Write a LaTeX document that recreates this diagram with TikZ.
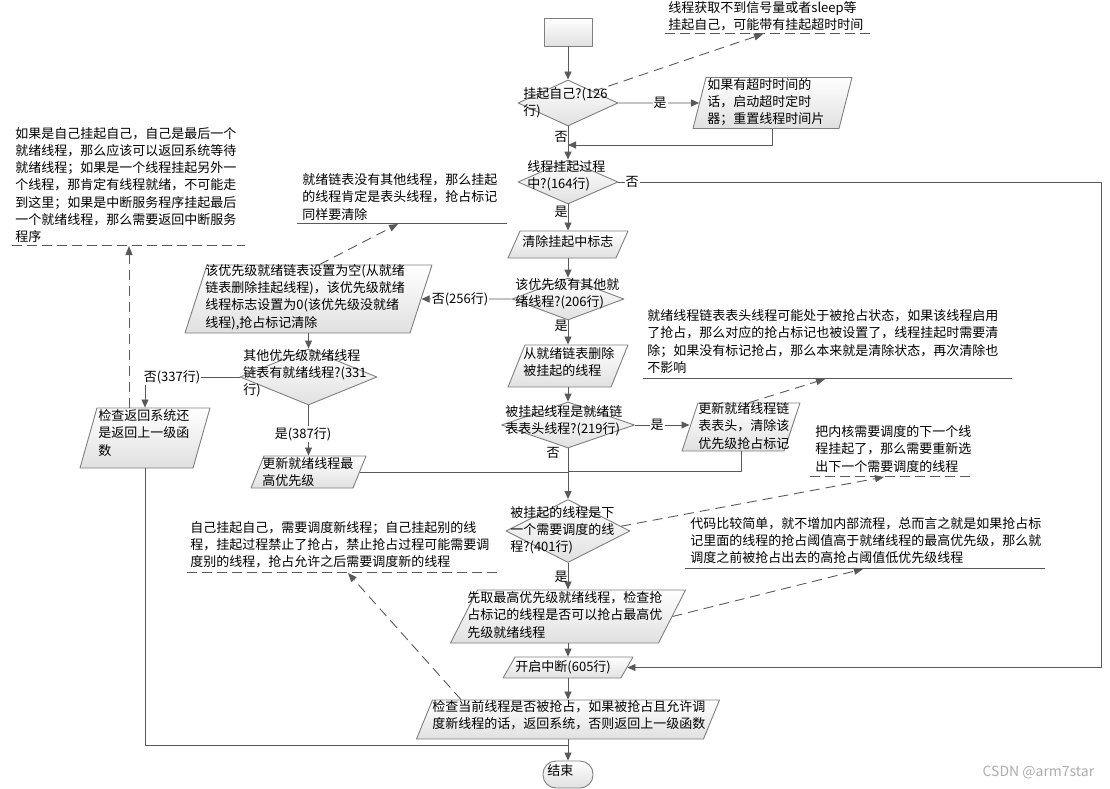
\documentclass[tikz,border=0pt]{standalone}
\usepackage{fontspec}
\setmainfont{Noto Sans CJK SC}
\usetikzlibrary{shapes.geometric,arrows.meta,calc}
\definecolor{ln}{HTML}{595959}
\definecolor{bd}{HTML}{7F7F7F}
\newcommand{\hgt}[1]{\rule{0pt}{#1pt}}

\begin{document}
\begin{tikzpicture}[
  x=1pt, y=-1pt,
  line width=0.9pt,
  line join=round,
  box/.style={draw=bd, top color=white, bottom color=gray!24, inner sep=0pt},
  io/.style 2 args={box, trapezium, trapezium left angle=#1,
    trapezium right angle=#2, trapezium stretches body},
  dec/.style={box, diamond},
  txt/.style={anchor=west, align=left, inner sep=0pt,
    font=\fontsize{13}{17.2}\selectfont},
  lbl/.style={inner sep=1pt, font=\fontsize{13}{15}\selectfont},
  arr/.style={draw=ln, -{Triangle[length=8pt,width=7pt]}},
  wire/.style={draw=ln},
  ann/.style={draw=ln, dash pattern=on 10pt off 6pt,
    -{Triangle[length=9pt,width=7pt]}},
  ul/.style={draw=ln, line width=0.8pt}
]

\useasboundingbox (0,0) rectangle (1110,789);

% ---------- parameters ----------
\def\cx{568}          % main column

% ---------- main column ----------
\node[box, minimum width=48, minimum height=28] (start) at (\cx,32) {};
\node[dec, minimum width=100, minimum height=46] (q1) at (\cx,103) {};
\node[dec, minimum width=100, minimum height=44] (q2) at (\cx,182) {};
\node[io={66}{114}, minimum width=120] (pc) at (\cx,244.5) {\hgt{27}};
\node[dec, minimum width=112, minimum height=42] (q3) at (\cx,299) {};
\node[io={68}{112}, minimum width=120] (p5) at (\cx,366) {\hgt{42}};
\node[dec, minimum width=133, minimum height=46] (q6) at (\cx,425) {};
\node[dec, minimum width=124, minimum height=63] (q8) at (\cx,531) {};
\node[io={63}{117}, minimum width=235] (p10) at (\cx,616.5) {\hgt{53}};
\node[io={60}{120}, minimum width=130] (p11) at (\cx,667.5) {\hgt{21}};
\node[io={67.7}{112.3}, minimum width=303] (p12) at (\cx,719.5) {\hgt{39}};
\node[box, rounded corners=13pt, minimum width=50, minimum height=27] (stop) at (\cx,774.5) {};

% ---------- side shapes ----------
\node[io={75.7}{104.3}, minimum width=159] (p1) at (772.5,103) {\hgt{51}};
\node[io={72.1}{107.9}, minimum width=247] (p4) at (308.5,299) {\hgt{68}};
\node[io={71.6}{108.4}, minimum width=118] (p7) at (741,427) {\hgt{48}};
\node[dec, minimum width=137, minimum height=56] (q7) at (308.5,377) {};
\node[io={74.2}{105.8}, minimum width=130] (pL) at (145,438) {\hgt{60}};
\node[io={67.9}{112.1}, minimum width=115] (p9) at (308.5,472) {\hgt{32}};

% ---------- texts in shapes ----------
\node[txt] (q1t) at (523,102.5) {挂起自己?(126\\行)};
\node[txt] (p1t) at (707,102) {如果有超时时间的\\话，启动超时定时\\器；重置线程时间片};
\node[txt] (q2t) at (527,175.5) {线程挂起过程\\中?(164行)};
\node[txt] (pct) at (522,242) {清除挂起中标志};
\node[txt] (q3t) at (515,294) {该优先级有其他就\\绪线程?(206行)};
\node[txt] (p4t) at (205,297) {该优先级就绪链表设置为空(从就绪\\链表删除挂起线程)，该优先级就绪\\线程标志设置为0(该优先级没就绪\\线程),抢占标记清除};
\node[txt] (p5t) at (523,362) {从就绪链表删除\\被挂起的线程};
\node[txt] (q6t) at (505,421) {被挂起线程是就绪链\\表表头线程?(219行)};
\node[txt] (p7t) at (698,426) {更新就绪线程链\\表表头，清除该\\优先级抢占标记};
\node[txt] (q7t) at (243,373) {其他优先级就绪线程\\链表有就绪线程?(331\\行)};
\node[txt] (pLt) at (98,433) {检查返回系统还\\是返回上一级函\\数};
\node[txt] (p9t) at (262,472) {更新就绪线程最\\高优先级};
\node[txt] (q8t) at (510,530) {被挂起的线程是下\\一个需要调度的线\\程?(401行)};
\node[txt] (p10t) at (467,615) {先取最高优先级就绪线程，检查抢\\占标记的线程是否可以抢占最高优\\先级就绪线程};
\node[txt] (p11t) at (515,667) {开启中断(605行)};
\node[txt] (p12t) at (432,715) {检查当前线程是否被抢占，如果被抢占且允许调\\度新线程的话，返回系统，否则返回上一级函数};
\node[txt] (stopt) at (547,771) {结束};

% ---------- notes ----------
\node[txt] (n1) at (668,16.5) {线程获取不到信号量或者sleep等\\挂起自己，可能带有挂起超时时间};
\node[txt] (nL) at (15,185) {如果是自己挂起自己，自己是最后一个\\就绪线程，那么应该可以返回系统等待\\就绪线程；如果是一个线程挂起另外一\\个线程，那肯定有线程就绪，不可能走\\到这里；如果是中断服务程序挂起最后\\一个就绪线程，那么需要返回中断服务\\程序};
\node[txt] (n2) at (302,197) {就绪链表没有其他线程，那么挂起\\的线程肯定是表头线程，抢占标记\\同样要清除};
\node[txt] (n3) at (647,341.5) {就绪线程链表表头线程可能处于被抢占状态，如果该线程启用\\了抢占，那么对应的抢占标记也被设置了，线程挂起时需要清\\除；如果没有标记抢占，那么本来就是清除状态，再次清除也\\不影响};
\node[txt] (n4) at (815,449) {把内核需要调度的下一个线\\程挂起了，那么需要重新选\\出下一个需要调度的线程};
\node[txt] (n5) at (190,544.5) {自己挂起自己，需要调度新线程；自己挂起别的线\\程，挂起过程禁止了抢占，禁止抢占过程可能需要调\\度别的线程，抢占允许之后需要调度新的线程};
\node[txt] (n6) at (690,540.5) {代码比较简单，就不增加内部流程，总而言之就是如果抢占标\\记里面的线程的抢占阈值高于就绪线程的最高优先级，那么就\\调度之前被抢占出去的高抢占阈值低优先级线程};

\draw[ul, dash pattern=on 10pt off 5pt] (665,33) -- (870,33);
\draw[ul, dash pattern=on 10pt off 5pt] (12,245) -- (245,245);
\draw[ul] (297,223) -- (507,223);
\draw[ul] (643,378) -- (1012,378);
\draw[ul, dash pattern=on 10pt off 5pt] (810,476) -- (975,476);
\draw[ul, dash pattern=on 10pt off 5pt] (187,572) -- (500,572);
\draw[ul] (685,568) -- (1045,568);

% ---------- joints ----------
\coordinate (j1) at (\cx,145);
\coordinate (j2) at (\cx,471);
\coordinate (j3) at (\cx,745);
\coordinate (c1) at (1101,182);
\coordinate (a1) at (763,34);
\coordinate (a2) at (398,224);
\coordinate (a3) at (825,379);
\coordinate (a4) at (884,477);
\coordinate (a5) at (348,573);
\coordinate (a6) at (863,569);
\coordinate (a7) at (129,246);

% ---------- connectors ----------
\foreach \a/\b in {start/q1, q1/q2, q2/pc, pc/q3, q3/p5, p5/q6, q6/q8,
                   q8/p10, p10/p11, p11/p12, p12/stop, p4/q7, q7/p9}
  \draw[arr] (\a.south) -- (\b.north);

\draw[arr] (q1.east) -- (p1.west);
\draw[arr] (p1.south) |- (j1);
\draw[arr] (q2.east) -- (c1) |- (p11.east);
\draw[arr] (q3.west) -- (p4.east);
\draw[arr] (q6.east) -- (q6.east -| p7.west);
\draw[wire] (p7.south) |- (j2);
\draw[wire] (p9.east) -- (p9.east -| j2);
\draw[arr] (q7.west) -| (pL.north);
\draw[wire] (pL.south) |- (j3);

% ---------- annotation links ----------
\draw[ann] (q1.north east) -- (a1);
\draw[ann] (p4.top side) -- (a2);
\draw[ann] (p7.top side) -- (a3);
\draw[ann] ($(q8.east)!0.15!(q8.north)$) -- (a4);
\draw[ann] ($(p12.top left corner)!0.1!(p12.top right corner)$) -- (a5);
\draw[ann] (p10.right side) -- (a6);
\draw[ann] (pL.north -| a7) -- (a7);

% ---------- branch labels ----------
\node[lbl, fill=white] (y1) at (660,103) {是};
\node[lbl] (n1l) at (561,137) {否};
\node[lbl, fill=white] (n2l) at (632,182) {否};
\node[lbl] (y2) at (561,212) {是};
\node[lbl, fill=white] (n3l) at (460,299) {否(256行)};
\node[lbl] (y3) at (561,326) {是};
\node[lbl, fill=white] (y6) at (657,425) {是};
\node[lbl] (n6l) at (553,453) {否};
\node[lbl, fill=white] (n7l) at (172,377) {否(337行)};
\node[lbl, fill=white] (y7) at (303,434) {是(387行)};
\node[lbl] (y8) at (561,577) {是};

% ---------- mark ----------
\node[anchor=east, text=gray!65, font=\fontsize{14}{16}\selectfont] (wm) at (1098,772) {CSDN @arm7star};

\end{tikzpicture}
\end{document}
